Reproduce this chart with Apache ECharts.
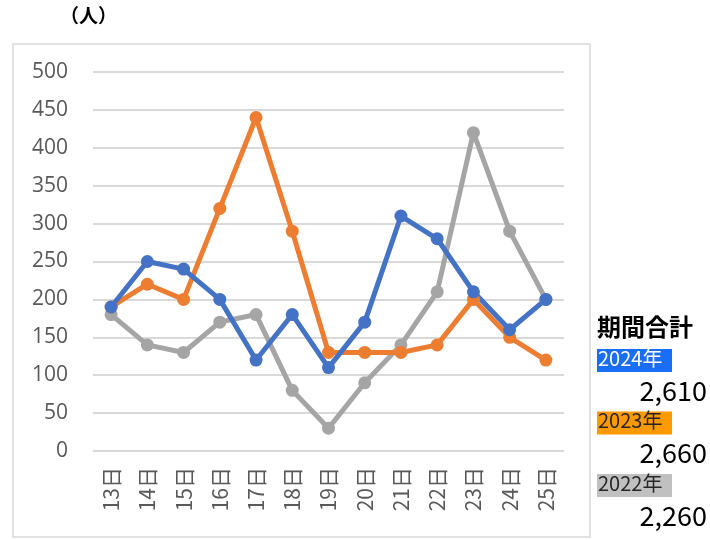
<!DOCTYPE html>
<html>
<head>
<meta charset="utf-8">
<script src="https://cdn.jsdelivr.net/npm/echarts@6/dist/echarts.min.js"></script>
<style>
  html, body { margin: 0; padding: 0; background: #fff; }
  #chart { width: 710px; height: 540px; }
</style>
</head>
<body>
<div id="chart"></div>
<script>
const days = ["13日", "14日", "15日", "16日", "17日", "18日", "19日", "20日", "21日", "22日", "23日", "24日", "25日"];
const data2024 = [190, 250, 240, 200, 120, 180, 110, 170, 310, 280, 210, 160, 200];
const data2023 = [190, 220, 200, 320, 440, 290, 130, 130, 130, 140, 200, 150, 120];
const data2022 = [180, 140, 130, 170, 180, 80, 30, 90, 140, 210, 420, 290, 200];
const years = ["2024年", "2023年", "2022年"];
const totals = ["2,610", "2,660", "2,260"];
const yTicks = [0, 50, 100, 150, 200, 250, 300, 350, 400, 450, 500];

const colors = ["#4472c4", "#ed7d31", "#a5a5a5"];
const tagBg = ["#1a6ef5", "#ff9900", "#c0c0c0"];
const tagText = ["#ffffff", "#262626", "#262626"];
const font = "'Noto Sans CJK JP', 'Noto Sans', sans-serif";

const chart = echarts.init(document.getElementById("chart"));

// side summary block
const side = [
  { type: "text", left: 597, top: 315, style: { text: "期間合計", font: "bold 24px " + font, fill: "#000" } }
];
years.forEach((y, i) => {
  const top = 349 + i * 62.5;
  side.push({
    type: "rect", shape: { x: 597, y: top, width: 75, height: 23 },
    style: { fill: tagBg[i] }
  });
  side.push({
    type: "text", left: 598, top: top - 1, style: { text: y, font: "20px " + font, fill: tagText[i] }
  });
  side.push({
    type: "text", right: 3, top: top + 28, style: { text: totals[i], font: "27px " + font, fill: "#000" }
  });
});

const mkSeries = (name, data, color) => ({
  name: name,
  type: "line",
  data: data,
  color: color,
  symbol: "circle",
  symbolSize: 13,
  lineStyle: { width: 5, color: color },
  itemStyle: { color: color },
  animation: false
});

chart.setOption({
  backgroundColor: "#fff",
  grid: { left: 93, right: 146, top: 72, bottom: 89 },
  graphic: [
    {
      type: "rect", shape: { x: 13, y: 44, width: 577, height: 493 },
      style: { fill: "none", stroke: "#d9d9d9", lineWidth: 1.5 }
    },
    { type: "text", left: 60, top: 6, style: { text: "（人）", font: "bold 19px " + font, fill: "#000" } }
  ].concat(side),
  xAxis: {
    type: "category",
    data: days,
    boundaryGap: true,
    axisLine: { show: false },
    axisTick: { show: false },
    axisLabel: { rotate: 90, margin: 16, fontSize: 21, color: "#595959", fontFamily: font }
  },
  yAxis: {
    type: "value",
    min: 0,
    max: 500,
    interval: 50,
    axisLine: { show: false },
    axisTick: { show: false },
    splitLine: { lineStyle: { color: "#d9d9d9", width: 2 } },
    axisLabel: { margin: 25, fontSize: 21, color: "#595959", fontFamily: "'Open Sans', sans-serif",
      formatter: v => yTicks.includes(v) ? String(v) : "" }
  },
  series: [
    mkSeries("2022年", data2022, colors[2]),
    mkSeries("2023年", data2023, colors[1]),
    mkSeries("2024年", data2024, colors[0])
  ]
});
</script>
</body>
</html>
